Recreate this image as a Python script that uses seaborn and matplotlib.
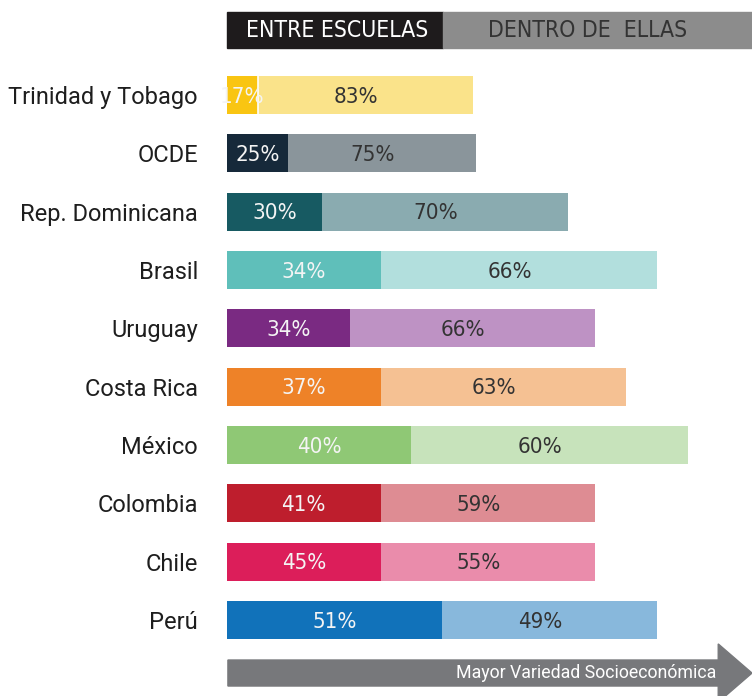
import matplotlib
matplotlib.use('Agg')
import matplotlib.pyplot as plt
from matplotlib.patches import Rectangle, Polygon
import seaborn as sns
import pandas as pd

# data
countries = ['Trinidad y Tobago', 'OCDE', 'Rep. Dominicana', 'Brasil', 'Uruguay',
             'Costa Rica', 'México', 'Colombia', 'Chile', 'Perú']
between = [10, 20, 31, 50, 40, 50, 60, 50, 50, 70]   # varianza entre escuelas
within = [70, 61, 80, 90, 80, 80, 90, 70, 70, 70]    # varianza dentro de ellas
pct_between = ['17%', '25%', '30%', '34%', '34%', '37%', '40%', '41%', '45%', '51%']
pct_within = ['83%', '75%', '70%', '66%', '66%', '63%', '60%', '59%', '55%', '49%']

dark = ['#F9C512', '#16293A', '#175A62', '#5FBFBA', '#7A2A82',
        '#EE8228', '#8FC875', '#BE1E2D', '#DC1E5A', '#1172BA']
light = ['#FAE38A', '#8A959B', '#8AABB0', '#B2DFDD', '#BE92C4',
         '#F5C193', '#C7E3BB', '#DE8C93', '#EA8CAB', '#88B8DC']

df = pd.DataFrame({'pais': countries, 'entre': between, 'dentro': within})
df['total'] = df['entre'] + df['dentro']

sns.set_style('white')
plt.rcParams['font.family'] = ['Roboto', 'DejaVu Sans']

fig = plt.figure(figsize=(7.52, 6.96), dpi=100)
ax = fig.add_axes([227 / 752, 0, 525 / 752, 1])

sns.barplot(data=df, x='total', y='pais', hue='pais', palette=light, width=0.65,
            orient='h', ax=ax, legend=False, saturation=1, linewidth=0)
sns.barplot(data=df, x='entre', y='pais', hue='pais', palette=dark, width=0.65,
            orient='h', ax=ax, legend=False, saturation=1, linewidth=0)

ax.set_xlim(0, 171)
ax.set_ylim(10.303, -1.629)
sns.despine(ax=ax, left=True, bottom=True)
ax.set_xticks([])
ax.set_xlabel('')
ax.set_ylabel('')
ax.tick_params(axis='y', length=0, pad=21, labelsize=17, labelcolor='#1E1E1E')

pct_font = dict(family=['DejaVu Sans'], stretch='condensed', weight='light',
                fontsize=16, va='center', ha='center')
for i in range(len(countries)):
    b, w = between[i], within[i]
    ax.text(b / 2, i + 0.03, pct_between[i], color='#F4F4F4', **pct_font)
    ax.text(b + w / 2 - 3, i + 0.03, pct_within[i], color='#333333', **pct_font)

# thin white separator on the first bar
ax.plot([between[0], between[0]], [-0.325, 0.325], color='white', lw=1.2)

# header
ax.add_patch(Rectangle((0, -1.423), 70.4, 0.617, color='#1E1B1C', clip_on=False))
ax.add_patch(Rectangle((70.4, -1.423), 101, 0.617, color='#8C8C8C', clip_on=False))
head_font = dict(family=['DejaVu Sans'], stretch='condensed', weight='light',
                 fontsize=16.5, va='center', ha='center')
ax.text(35.8, -1.1, 'ENTRE ESCUELAS', color='white', **head_font)
ax.text(117.3, -1.1, 'DENTRO DE  ELLAS', color='#333333', **head_font)

# bottom arrow
ax.add_patch(Polygon([(0.3, 9.686), (160, 9.686), (160, 9.41), (171, 9.91),
                      (160, 10.41), (160, 10.132), (0.3, 10.132)],
                     closed=True, color='#77787B', clip_on=False))
ax.text(159.3, 9.91, 'Mayor Variedad Socioeconómica', color='white',
        fontsize=12.8, ha='right', va='center')

plt.savefig('out.png', dpi=100)
plt.close()
